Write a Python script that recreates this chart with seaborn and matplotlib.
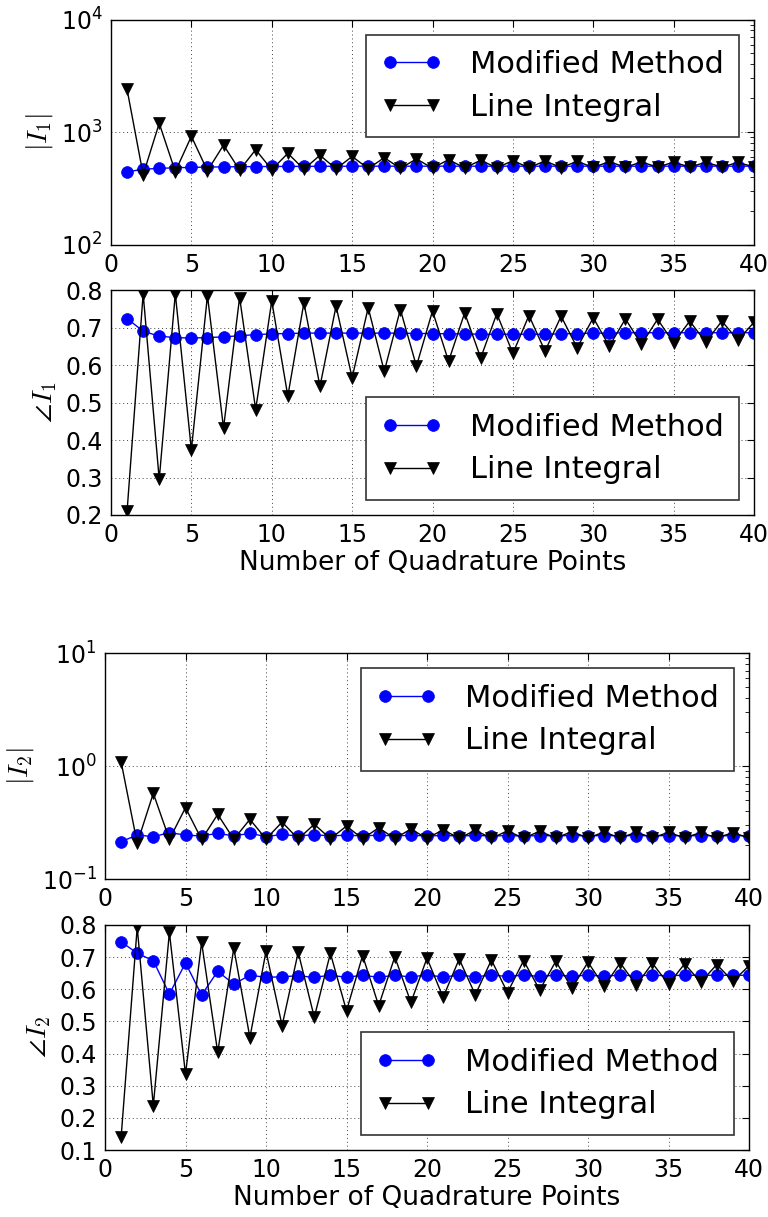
import numpy as np
import pandas as pd
import matplotlib
matplotlib.use("Agg")
import matplotlib.pyplot as plt
import seaborn as sns
from matplotlib.ticker import LogLocator, MultipleLocator, NullFormatter

sns.set_style("white")
plt.rcParams["font.family"] = ["DejaVu Sans"]
plt.rcParams["mathtext.fontset"] = "cm"
plt.rcParams["axes.unicode_minus"] = False
for k in ["text.color", "axes.labelcolor", "xtick.color", "ytick.color"]:
    plt.rcParams[k] = "black"

# ---------------- data ----------------
n_points = list(range(1, 41))

mag1_modified = [445, 470, 478, 484, 488, 491, 493, 495, 496, 497,
                 498, 498, 499, 499, 500, 500, 500, 500, 500, 500,
                 500, 500, 500, 500, 500, 500, 500, 500, 500, 500,
                 500, 500, 500, 500, 500, 500, 500, 500, 500, 500]
mag1_line = [2400, 420, 1200, 448, 920, 455, 770, 462, 700, 466,
             650, 470, 625, 473, 610, 476, 595, 478, 580, 480,
             572, 482, 565, 483, 560, 485, 556, 486, 552, 487,
             549, 488, 546, 489, 544, 490, 542, 491, 540, 492]

ang1_modified = [0.724, 0.690, 0.677, 0.673, 0.672, 0.673, 0.675, 0.678, 0.681, 0.683,
                 0.684, 0.685, 0.685, 0.685, 0.685, 0.685, 0.685, 0.685, 0.684, 0.684,
                 0.683, 0.683, 0.682, 0.682, 0.682, 0.682, 0.682, 0.683, 0.684, 0.685,
                 0.685, 0.686, 0.686, 0.686, 0.686, 0.686, 0.686, 0.686, 0.686, 0.686]
ang1_line = [0.210, 0.790, 0.295, 0.790, 0.374, 0.785, 0.432, 0.780, 0.481, 0.771,
             0.517, 0.766, 0.543, 0.757, 0.566, 0.753, 0.583, 0.748, 0.597, 0.744,
             0.610, 0.739, 0.619, 0.737, 0.631, 0.732, 0.637, 0.730, 0.646, 0.726,
             0.650, 0.723, 0.655, 0.722, 0.659, 0.717, 0.661, 0.717, 0.666, 0.714]

mag2_modified = [0.214, 0.245, 0.237, 0.257, 0.245, 0.240, 0.254, 0.240, 0.254, 0.237,
                 0.248, 0.240, 0.247, 0.240, 0.245, 0.240, 0.245, 0.240, 0.244, 0.240,
                 0.243, 0.240, 0.243, 0.240, 0.242, 0.240, 0.242, 0.241, 0.242, 0.241,
                 0.242, 0.241, 0.242, 0.241, 0.242, 0.241, 0.242, 0.241, 0.242, 0.241]
mag2_line = [1.09, 0.207, 0.573, 0.224, 0.428, 0.224, 0.373, 0.225, 0.337, 0.226,
             0.319, 0.226, 0.305, 0.227, 0.294, 0.227, 0.284, 0.228, 0.277, 0.228,
             0.273, 0.229, 0.270, 0.229, 0.267, 0.229, 0.265, 0.230, 0.263, 0.230,
             0.261, 0.230, 0.260, 0.231, 0.259, 0.231, 0.258, 0.231, 0.257, 0.231]

ang2_modified = [0.748, 0.712, 0.689, 0.585, 0.682, 0.582, 0.656, 0.616, 0.644, 0.637,
                 0.639, 0.642, 0.637, 0.644, 0.637, 0.644, 0.637, 0.644, 0.638, 0.645,
                 0.638, 0.644, 0.639, 0.644, 0.640, 0.644, 0.640, 0.644, 0.641, 0.644,
                 0.641, 0.644, 0.642, 0.644, 0.642, 0.644, 0.643, 0.644, 0.643, 0.644]
ang2_line = [0.139, 0.793, 0.238, 0.777, 0.336, 0.746, 0.404, 0.728, 0.450, 0.718,
             0.487, 0.715, 0.513, 0.712, 0.533, 0.705, 0.549, 0.701, 0.559, 0.697,
             0.575, 0.694, 0.583, 0.691, 0.590, 0.689, 0.598, 0.687, 0.604, 0.684,
             0.609, 0.682, 0.613, 0.681, 0.616, 0.679, 0.622, 0.677, 0.625, 0.673]

series_labels = ["Modified Method", "Line Integral"]
y_labels = [r"$|I_1|$", r"$\angle I_1$", r"$|I_2|$", r"$\angle I_2$"]
x_label = "Number of Quadrature Points"

# ---------------- figure ----------------
W, H = 768, 1217
fig = plt.figure(figsize=(W / 100, H / 100), dpi=100)


def add_ax(l, t, r, b):
    return fig.add_axes([l / W, 1 - b / H, (r - l) / W, (b - t) / H])


boxes = [(111, 19.5, 754, 245), (111, 290, 754, 515),
         (105, 653, 749, 879), (105, 925, 749, 1150)]
panels = [
    (mag1_modified, mag1_line, True, (1e2, 1e4), "upper right"),
    (ang1_modified, ang1_line, False, (0.2, 0.8), "lower right"),
    (mag2_modified, mag2_line, True, (1e-1, 1e1), "upper right"),
    (ang2_modified, ang2_line, False, (0.1, 0.8), "lower right"),
]

for i, (box, (ym, yl, logy, ylim, loc)) in enumerate(zip(boxes, panels)):
    ax = add_ax(*box)
    df = pd.DataFrame({"n": n_points, "mod": ym, "line": yl})
    sns.lineplot(data=df, x="n", y="mod", ax=ax, color="blue", marker="o",
                 markersize=8.5, mec="blue", mew=0.5, lw=1.0,
                 label=series_labels[0])
    sns.lineplot(data=df, x="n", y="line", ax=ax, color="black", marker="v",
                 markersize=9, mec="black", mew=0.5, lw=1.0,
                 label=series_labels[1])
    if logy:
        ax.set_yscale("log")
        ax.yaxis.set_major_locator(LogLocator(base=10, numticks=10))
        ax.yaxis.set_minor_locator(LogLocator(base=10, subs=np.arange(2, 10), numticks=20))
        ax.yaxis.set_minor_formatter(NullFormatter())
    else:
        ax.yaxis.set_major_locator(MultipleLocator(0.1))
    ax.set_ylim(*ylim)
    ax.set_xlim(0, 40)
    ax.xaxis.set_major_locator(MultipleLocator(5))

    ax.grid(True, which="major", color="#444444", linestyle=(0, (1, 3)), linewidth=0.7)
    ax.tick_params(which="both", direction="in", top=True, right=True,
                   labelsize=17, color="black")
    ax.tick_params(which="major", length=5, width=0.8, pad=6)
    ax.tick_params(which="minor", length=3, width=0.6)
    for s in ax.spines.values():
        s.set_color("black")
        s.set_linewidth(1.0)
        s.set_visible(True)

    ax.set_ylabel(y_labels[i], fontsize=20)
    if i in (1, 3):
        ax.set_xlabel(x_label, fontsize=19, labelpad=2)
    else:
        ax.set_xlabel("")

    leg = ax.legend(loc=loc, numpoints=2, fontsize=22, fancybox=False,
                    frameon=True, framealpha=1, edgecolor="#333333",
                    handlelength=2, borderpad=0.5, labelspacing=0.45,
                    handletextpad=0.9, borderaxespad=0.5)
    leg.get_frame().set_linewidth(1.2)

fig.savefig("out.png", dpi=100)
